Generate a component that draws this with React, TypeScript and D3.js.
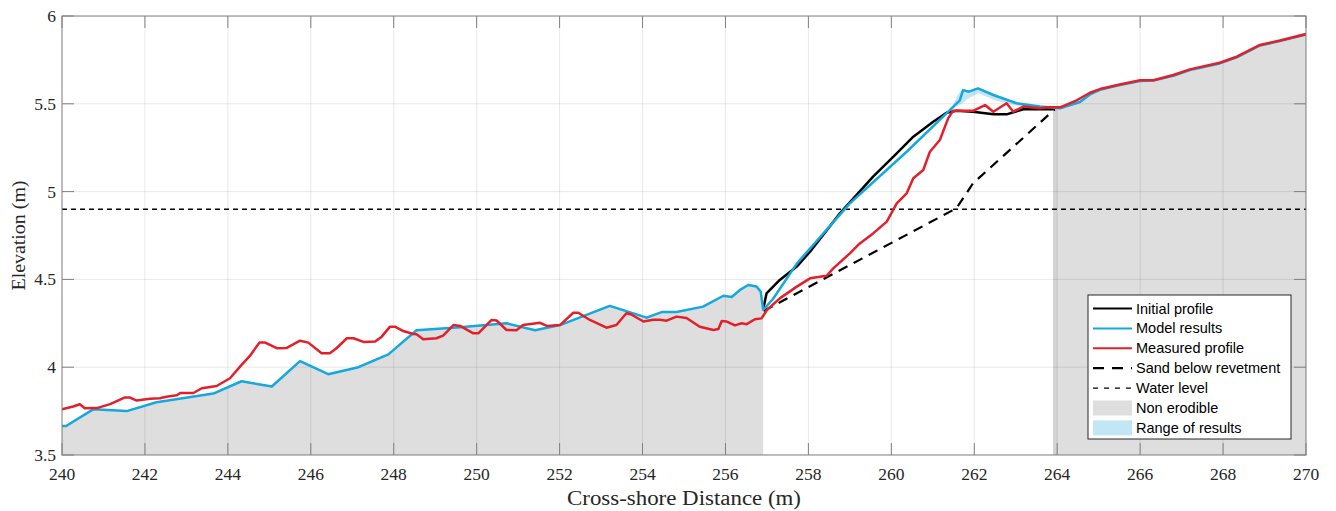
import React from "react";
import * as d3 from "d3";

type P = [number, number];

const xTicks = [240, 242, 244, 246, 248, 250, 252, 254, 256, 258, 260, 262, 264, 266, 268, 270];
const yTicks = [3.5, 4, 4.5, 5, 5.5, 6];
const waterLevel = 4.9;

const measuredProfile: P[] = [
  [240.0, 3.76], [240.27, 3.776], [240.43, 3.789], [240.55, 3.766], [240.84, 3.767], [241.16, 3.79],
  [241.52, 3.828], [241.64, 3.827], [241.8, 3.81], [242.12, 3.82], [242.36, 3.823], [242.52, 3.832],
  [242.77, 3.84], [242.85, 3.853], [243.17, 3.853], [243.37, 3.88], [243.73, 3.893], [244.05, 3.937],
  [244.33, 4.013], [244.53, 4.064], [244.76, 4.14], [244.9, 4.14], [245.18, 4.108], [245.42, 4.11],
  [245.74, 4.151], [245.94, 4.14], [246.26, 4.079], [246.46, 4.079], [246.62, 4.108], [246.87, 4.165],
  [247.03, 4.165], [247.27, 4.144], [247.55, 4.146], [247.71, 4.174], [247.91, 4.231], [248.03, 4.231],
  [248.23, 4.206], [248.47, 4.189], [248.55, 4.187], [248.71, 4.159], [249.03, 4.165], [249.19, 4.18],
  [249.44, 4.24], [249.6, 4.235], [249.92, 4.193], [250.04, 4.193], [250.36, 4.269], [250.48, 4.266],
  [250.72, 4.212], [250.96, 4.21], [251.12, 4.24], [251.53, 4.253], [251.69, 4.235], [252.01, 4.24],
  [252.33, 4.31], [252.45, 4.31], [252.73, 4.269], [253.13, 4.225], [253.37, 4.24], [253.61, 4.307],
  [253.73, 4.3], [254.02, 4.26], [254.26, 4.27], [254.42, 4.27], [254.58, 4.265], [254.82, 4.288],
  [255.06, 4.28], [255.38, 4.23], [255.71, 4.212], [255.83, 4.217], [255.91, 4.263], [256.03, 4.26],
  [256.23, 4.238], [256.39, 4.25], [256.51, 4.245], [256.71, 4.273], [256.87, 4.278], [257.0, 4.326],
  [257.31, 4.392], [257.72, 4.459], [258.04, 4.506], [258.44, 4.521], [258.6, 4.563], [259.0, 4.648],
  [259.24, 4.705], [259.56, 4.762], [259.89, 4.829], [260.13, 4.933], [260.37, 4.99], [260.53, 5.076],
  [260.77, 5.123], [260.93, 5.227], [261.17, 5.294], [261.37, 5.417], [261.49, 5.461], [261.97, 5.46],
  [262.26, 5.493], [262.46, 5.455], [262.78, 5.503], [262.94, 5.455], [263.18, 5.484], [263.58, 5.474],
  [263.74, 5.48], [264.07, 5.48], [264.47, 5.52], [264.79, 5.563], [265.03, 5.584], [265.51, 5.61],
  [266.0, 5.634], [266.32, 5.634], [266.8, 5.664], [267.2, 5.696], [267.92, 5.734], [268.33, 5.768],
  [268.89, 5.835], [269.37, 5.86], [270.0, 5.897],
];

const modelResults: P[] = [
  [240.0, 3.665], [240.1, 3.665], [240.75, 3.76], [241.56, 3.75], [242.28, 3.8], [243.65, 3.85],
  [244.33, 3.92], [245.06, 3.89], [245.74, 4.035], [246.42, 3.96], [247.15, 4.0], [247.87, 4.073],
  [248.55, 4.21], [249.6, 4.227], [250.72, 4.25], [251.41, 4.21], [252.01, 4.24], [253.21, 4.349],
  [254.1, 4.282], [254.46, 4.314], [254.82, 4.314], [255.46, 4.345], [255.95, 4.407], [256.15, 4.4],
  [256.35, 4.44], [256.55, 4.468], [256.75, 4.46], [256.85, 4.43], [256.91, 4.326], [257.15, 4.39],
  [257.72, 4.59], [259.0, 4.933], [260.37, 5.227], [261.33, 5.446], [261.65, 5.52], [261.73, 5.578],
  [261.87, 5.569], [262.09, 5.588], [262.46, 5.55], [263.02, 5.503], [263.58, 5.484], [264.07, 5.475],
  [264.55, 5.51], [264.79, 5.553], [265.03, 5.58], [265.51, 5.607], [266.0, 5.63], [266.32, 5.632],
  [266.8, 5.66], [267.2, 5.692], [267.92, 5.73], [268.33, 5.765], [268.89, 5.832], [269.37, 5.857],
  [270.0, 5.895],
];

const initialProfile: P[] = [
  [256.91, 4.33], [256.99, 4.42], [257.31, 4.497], [257.72, 4.573], [258.04, 4.658], [258.76, 4.876],
  [259.56, 5.085], [260.13, 5.218], [260.53, 5.313], [261.01, 5.398], [261.33, 5.449], [261.57, 5.46],
  [261.97, 5.455], [262.46, 5.44], [262.78, 5.44], [263.18, 5.469], [263.9, 5.469],
];

const sandBelowRevetment: P[] = [
  [256.92, 4.32], [261.57, 4.905], [261.97, 5.047], [263.94, 5.469],
];

const rangeLower: P[] = [
  [261.45, 5.46], [261.6, 5.49], [261.7, 5.5], [261.85, 5.53], [262.1, 5.56], [262.5, 5.52],
  [263.0, 5.49], [263.5, 5.478],
];
const rangeUpper: P[] = [
  [261.45, 5.47], [261.6, 5.55], [261.7, 5.58], [261.85, 5.575], [262.1, 5.59], [262.5, 5.555],
  [263.0, 5.505], [263.5, 5.486],
];

const nonErodibleLeftEnd = 256.91;
const nonErodibleRightStart = 263.9;
const nonErodibleOverlapEnd = 264.0;

const legendItems = [
  "Initial profile",
  "Model results",
  "Measured profile",
  "Sand below revetment",
  "Water level",
  "Non erodible",
  "Range of results",
];

const W = 1336;
const H = 511;
const m = { left: 62, right: 1306, top: 16, bottom: 455 };

const C_BLACK = "#000000";
const C_BLUE = "#14a8dc";
const C_RED = "#e3202a";
const C_GRAY = "#dedede";
const C_GRAY_DARK = "#d3d3d3";
const C_RANGE = "#c1e6f4";
const C_AXIS = "#808080";
const C_TEXT = "#262626";

export default function App() {
  const x = d3.scaleLinear().domain([240, 270]).range([m.left, m.right]);
  const y = d3.scaleLinear().domain([3.5, 6]).range([m.bottom, m.top]);
  const line = d3.line<P>().x((d) => x(d[0])).y((d) => y(d[1]));

  const leftPoly: P[] = [
    ...modelResults.filter((d) => d[0] <= nonErodibleLeftEnd),
    [nonErodibleLeftEnd, 3.5],
    [240, 3.5],
  ];
  const rightTop = measuredProfile.filter((d) => d[0] > nonErodibleRightStart);
  const rightPoly: P[] = [
    [nonErodibleRightStart, 3.5],
    [nonErodibleRightStart, 5.472],
    ...rightTop,
    [270, 3.5],
  ];
  const overlapPoly: P[] = [
    [nonErodibleRightStart, 3.5],
    [nonErodibleRightStart, 5.472],
    [nonErodibleOverlapEnd, 5.476],
    [nonErodibleOverlapEnd, 3.5],
  ];
  const poly = (pts: P[]) => "M" + pts.map((d) => `${x(d[0])},${y(d[1])}`).join("L") + "Z";

  const rangeArea = d3
    .area<number>()
    .x((i) => x(rangeLower[i][0]))
    .y0((i) => y(rangeLower[i][1]))
    .y1((i) => y(rangeUpper[i][1]));

  const serif = "'Liberation Serif', serif";
  const sans = "'Liberation Sans', Arial, sans-serif";

  const lg = { x: 1088, y: 295, w: 203, h: 144, rowH: 19.9, first: 308.5 };

  return (
    <svg width={W} height={H} style={{ position: "absolute", left: 0, top: 0 }}>
      <defs>
        <clipPath id="plotclip">
          <rect x={m.left} y={m.top} width={m.right - m.left} height={m.bottom - m.top} />
        </clipPath>
      </defs>
      <rect x={0} y={0} width={W} height={H} fill="#fff" />
      <g clipPath="url(#plotclip)">
        <path d={poly(leftPoly)} fill={C_GRAY} />
        <path d={poly(rightPoly)} fill={C_GRAY} />
        <path d={poly(overlapPoly)} fill={C_GRAY_DARK} />
        <path d={rangeArea(d3.range(rangeLower.length)) || ""} fill={C_RANGE} />
        {xTicks.map((t) => (
          <line key={"gx" + t} x1={x(t)} x2={x(t)} y1={m.top} y2={m.bottom} stroke="#000" strokeOpacity={0.09} strokeWidth={1} />
        ))}
        {yTicks.map((t) => (
          <line key={"gy" + t} x1={m.left} x2={m.right} y1={y(t)} y2={y(t)} stroke="#000" strokeOpacity={0.09} strokeWidth={1} />
        ))}
        <line x1={x(240)} x2={x(270)} y1={y(waterLevel)} y2={y(waterLevel)} stroke={C_BLACK} strokeWidth={1.5} strokeDasharray="5,4" />
        <path d={line(sandBelowRevetment) || ""} fill="none" stroke={C_BLACK} strokeWidth={2.2} strokeDasharray="10,7" />
        <path d={line(initialProfile) || ""} fill="none" stroke={C_BLACK} strokeWidth={2.5} strokeLinejoin="round" />
        <path d={line(modelResults) || ""} fill="none" stroke={C_BLUE} strokeWidth={2.5} strokeLinejoin="round" />
        <path d={line(measuredProfile) || ""} fill="none" stroke={C_RED} strokeWidth={2.5} strokeLinejoin="round" />
      </g>

      {/* axes box */}
      <rect x={m.left} y={m.top} width={m.right - m.left} height={m.bottom - m.top} fill="none" stroke={C_AXIS} strokeWidth={1} />
      {xTicks.map((t) => (
        <g key={"xt" + t}>
          <line x1={x(t)} x2={x(t)} y1={m.bottom} y2={m.bottom - 12} stroke={C_AXIS} />
          <line x1={x(t)} x2={x(t)} y1={m.top} y2={m.top + 12} stroke={C_AXIS} />
          <text x={x(t)} y={480} textAnchor="middle" fontFamily={serif} fontSize={17.5} fill={C_TEXT}>
            {t}
          </text>
        </g>
      ))}
      {yTicks.map((t) => (
        <g key={"yt" + t}>
          <line x1={m.left} x2={m.left + 12} y1={y(t)} y2={y(t)} stroke={C_AXIS} />
          <line x1={m.right} x2={m.right - 12} y1={y(t)} y2={y(t)} stroke={C_AXIS} />
          <text x={56} y={y(t) + 6} textAnchor="end" fontFamily={serif} fontSize={17.5} fill={C_TEXT}>
            {t}
          </text>
        </g>
      ))}
      <text
        x={(m.left + m.right) / 2}
        y={505}
        textAnchor="middle"
        fontFamily={serif}
        fontSize={20}
        fill={C_TEXT}
        textLength={234}
        lengthAdjust="spacingAndGlyphs"
      >
        Cross-shore Distance (m)
      </text>
      <text
        transform={`translate(25, ${(m.top + m.bottom) / 2}) rotate(-90)`}
        textAnchor="middle"
        fontFamily={serif}
        fontSize={19}
        fill={C_TEXT}
        textLength={110}
        lengthAdjust="spacingAndGlyphs"
      >
        Elevation (m)
      </text>

      {/* legend */}
      <rect x={lg.x} y={lg.y} width={lg.w} height={lg.h} fill="#fff" stroke={C_TEXT} strokeWidth={1} />
      {legendItems.map((label, i) => {
        const cy = lg.first + i * lg.rowH;
        const x1 = lg.x + 5;
        const x2 = lg.x + 44;
        let sample: React.ReactNode = null;
        if (i === 0) sample = <line x1={x1} x2={x2} y1={cy} y2={cy} stroke={C_BLACK} strokeWidth={2} />;
        if (i === 1) sample = <line x1={x1} x2={x2} y1={cy} y2={cy} stroke={C_BLUE} strokeWidth={2} />;
        if (i === 2) sample = <line x1={x1} x2={x2} y1={cy} y2={cy} stroke={C_RED} strokeWidth={2} />;
        if (i === 3) sample = <line x1={x1} x2={x2} y1={cy} y2={cy} stroke={C_BLACK} strokeWidth={2.2} strokeDasharray="11,8" />;
        if (i === 4) sample = <line x1={x1} x2={x2} y1={cy} y2={cy} stroke={C_BLACK} strokeWidth={1.4} strokeDasharray="5,6" />;
        if (i === 5) sample = <rect x={x1} y={cy - 7.5} width={x2 - x1} height={15} fill={C_GRAY} />;
        if (i === 6) sample = <rect x={x1} y={cy - 7.5} width={x2 - x1} height={15} fill={C_RANGE} />;
        return (
          <g key={label}>
            {sample}
            <text x={lg.x + 48} y={cy + 5} fontFamily={sans} fontSize={14.5} fill="#000">
              {label}
            </text>
          </g>
        );
      })}
    </svg>
  );
}
